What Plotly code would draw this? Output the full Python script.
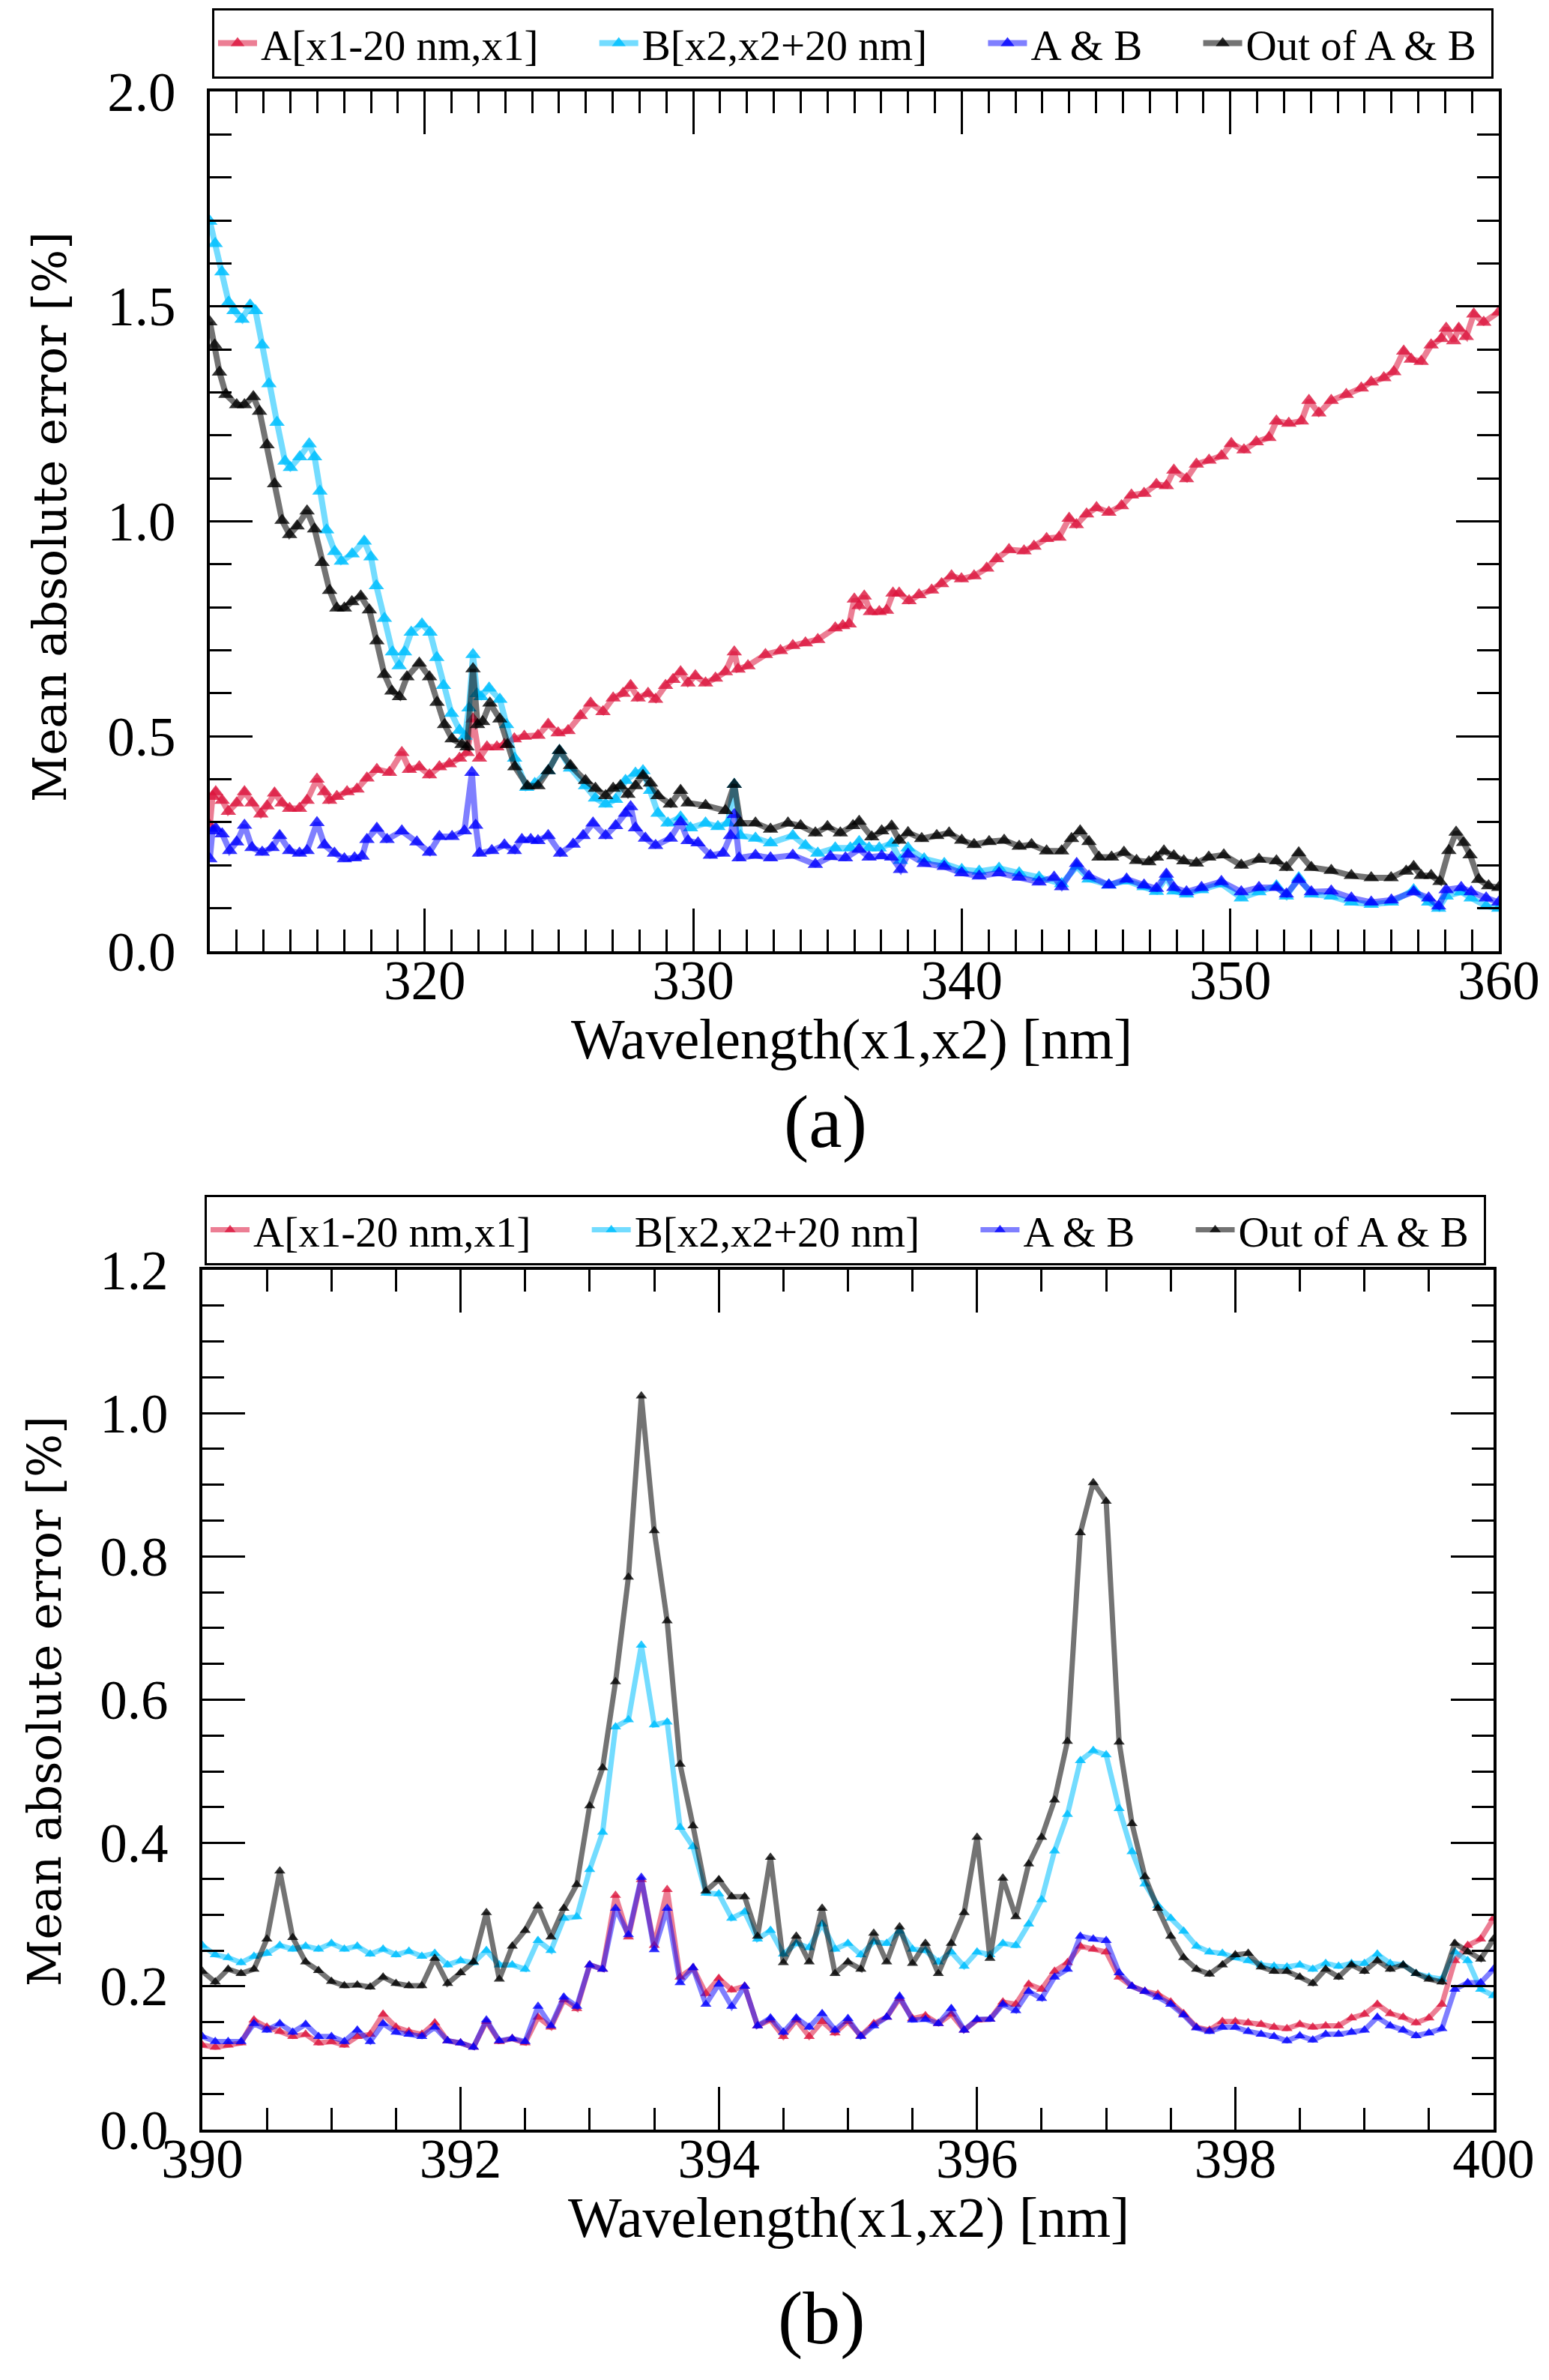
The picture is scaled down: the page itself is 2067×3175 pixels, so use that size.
import plotly.graph_objects as go

W, H = 2067, 3175

# ---------- panel (a): (wavelength, error) pairs ----------
a_red = [
    (312.0, 0.293), (312.1, 0.36), (312.22, 0.371), (312.46, 0.351), (312.69, 0.325), (313.0, 0.345),
    (313.29, 0.371), (313.57, 0.345), (313.9, 0.319), (314.13, 0.338), (314.41, 0.368), (314.69, 0.345),
    (314.97, 0.332), (315.34, 0.332), (315.62, 0.351), (315.99, 0.40), (316.27, 0.371), (316.46, 0.351),
    (316.73, 0.36), (317.11, 0.371), (317.48, 0.377), (317.85, 0.403), (318.22, 0.423), (318.69, 0.416),
    (319.15, 0.462), (319.43, 0.423), (319.8, 0.429), (320.18, 0.41), (320.55, 0.429), (320.92, 0.436),
    (321.3, 0.449), (321.58, 0.462), (321.8, 0.54), (322.04, 0.449), (322.32, 0.475), (322.69, 0.475),
    (322.97, 0.481), (323.34, 0.494), (323.71, 0.50), (324.22, 0.502), (324.6, 0.528), (324.97, 0.508),
    (325.34, 0.513), (325.8, 0.548), (326.18, 0.577), (326.64, 0.557), (327.02, 0.589), (327.39, 0.60),
    (327.67, 0.618), (327.95, 0.589), (328.32, 0.60), (328.6, 0.586), (328.97, 0.618), (329.25, 0.632),
    (329.53, 0.65), (329.81, 0.624), (330.08, 0.641), (330.46, 0.624), (330.83, 0.635), (331.2, 0.65),
    (331.53, 0.696), (331.67, 0.656), (332.04, 0.664), (332.69, 0.69), (333.25, 0.699), (333.71, 0.711),
    (334.18, 0.717), (334.64, 0.725), (335.29, 0.752), (335.57, 0.757), (335.81, 0.761), (336.0, 0.819),
    (336.18, 0.804), (336.37, 0.826), (336.6, 0.79), (336.93, 0.79), (337.2, 0.793), (337.44, 0.833),
    (337.67, 0.833), (338.04, 0.815), (338.41, 0.829), (338.88, 0.84), (339.25, 0.855), (339.62, 0.873),
    (339.99, 0.866), (340.46, 0.873), (340.93, 0.891), (341.3, 0.913), (341.76, 0.934), (342.32, 0.931),
    (342.69, 0.942), (343.16, 0.96), (343.62, 0.963), (344.0, 1.007), (344.27, 0.992), (344.65, 1.017),
    (345.02, 1.032), (345.48, 1.021), (345.95, 1.036), (346.32, 1.061), (346.79, 1.065), (347.25, 1.086),
    (347.62, 1.083), (347.9, 1.119), (348.37, 1.099), (348.74, 1.133), (349.21, 1.142), (349.67, 1.152),
    (350.04, 1.181), (350.51, 1.166), (350.97, 1.185), (351.44, 1.195), (351.72, 1.233), (352.18, 1.228),
    (352.65, 1.233), (352.93, 1.281), (353.3, 1.252), (353.76, 1.281), (354.32, 1.295), (354.88, 1.31),
    (355.25, 1.324), (355.72, 1.334), (356.09, 1.348), (356.46, 1.396), (356.74, 1.377), (357.11, 1.372),
    (357.48, 1.41), (357.86, 1.425), (358.04, 1.449), (358.32, 1.42), (358.51, 1.449), (358.79, 1.43),
    (359.07, 1.482), (359.44, 1.463), (360.0, 1.487),
]

a_cyan = [
    (312.0, 1.698), (312.2, 1.646), (312.45, 1.58), (312.7, 1.51), (312.9, 1.49), (313.2, 1.47),
    (313.5, 1.503), (313.7, 1.49), (313.95, 1.41), (314.2, 1.32), (314.5, 1.23), (314.8, 1.14),
    (315.0, 1.125), (315.35, 1.15), (315.7, 1.18), (315.9, 1.15), (316.1, 1.07), (316.35, 0.98),
    (316.65, 0.93), (316.9, 0.907), (317.3, 0.924), (317.75, 0.954), (318.0, 0.917), (318.2, 0.85),
    (318.5, 0.774), (318.8, 0.696), (319.05, 0.664), (319.25, 0.696), (319.5, 0.742), (319.9, 0.761),
    (320.2, 0.742), (320.45, 0.683), (320.7, 0.618), (321.0, 0.553), (321.3, 0.514), (321.5, 0.50),
    (321.65, 0.566), (321.8, 0.69), (321.95, 0.599), (322.1, 0.592), (322.4, 0.612), (322.8, 0.586),
    (323.05, 0.527), (323.35, 0.449), (323.8, 0.381), (324.1, 0.39), (324.6, 0.42), (325.02, 0.467),
    (325.43, 0.426), (325.99, 0.385), (326.36, 0.356), (326.74, 0.342), (327.11, 0.353), (327.48, 0.397),
    (327.85, 0.414), (328.13, 0.42), (328.41, 0.374), (328.69, 0.321), (329.06, 0.298), (329.53, 0.312),
    (329.9, 0.287), (330.46, 0.298), (330.92, 0.29), (331.29, 0.298), (331.53, 0.388), (331.76, 0.269),
    (332.32, 0.263), (332.88, 0.252), (333.71, 0.269), (334.18, 0.246), (334.64, 0.228), (335.29, 0.24),
    (335.85, 0.24), (336.18, 0.255), (336.55, 0.24), (336.93, 0.24), (337.39, 0.251), (337.72, 0.211),
    (338.0, 0.24), (338.6, 0.215), (339.35, 0.204), (340.0, 0.19), (340.65, 0.186), (341.39, 0.193),
    (342.14, 0.182), (342.88, 0.172), (343.72, 0.157), (344.28, 0.197), (344.74, 0.168), (345.48, 0.154),
    (346.14, 0.164), (346.79, 0.15), (347.25, 0.139), (347.62, 0.172), (347.9, 0.14), (348.37, 0.133),
    (348.93, 0.143), (349.67, 0.157), (350.41, 0.124), (351.07, 0.138), (351.72, 0.152), (352.09, 0.128),
    (352.55, 0.171), (353.02, 0.133), (353.76, 0.128), (354.51, 0.114), (355.25, 0.109), (356.0, 0.114),
    (356.83, 0.143), (357.39, 0.114), (357.76, 0.10), (358.04, 0.128), (358.6, 0.138), (358.97, 0.124),
    (359.53, 0.105), (360.0, 0.10),
]

a_blue = [
    (312.0, 0.215), (312.1, 0.28), (312.22, 0.286), (312.46, 0.273), (312.74, 0.234), (313.0, 0.254),
    (313.29, 0.293), (313.57, 0.241), (313.95, 0.23), (314.32, 0.241), (314.6, 0.269), (314.97, 0.234),
    (315.34, 0.228), (315.62, 0.234), (315.99, 0.299), (316.27, 0.247), (316.64, 0.228), (317.01, 0.215),
    (317.39, 0.217), (317.67, 0.221), (317.85, 0.26), (318.22, 0.286), (318.6, 0.26), (319.15, 0.28),
    (319.71, 0.254), (320.18, 0.23), (320.55, 0.267), (321.02, 0.267), (321.48, 0.28), (321.76, 0.416),
    (321.9, 0.293), (322.04, 0.228), (322.5, 0.234), (322.97, 0.247), (323.34, 0.234), (323.62, 0.26),
    (323.95, 0.26), (324.22, 0.257), (324.6, 0.269), (325.06, 0.228), (325.53, 0.249), (325.9, 0.269),
    (326.27, 0.298), (326.74, 0.269), (327.11, 0.292), (327.48, 0.321), (327.67, 0.336), (327.85, 0.287),
    (328.22, 0.263), (328.6, 0.246), (329.15, 0.263), (329.53, 0.301), (329.81, 0.257), (330.18, 0.252),
    (330.64, 0.223), (331.11, 0.228), (331.39, 0.269), (331.53, 0.318), (331.71, 0.217), (332.32, 0.223),
    (332.88, 0.217), (333.71, 0.223), (334.55, 0.202), (335.11, 0.22), (335.67, 0.217), (336.18, 0.237),
    (336.55, 0.219), (337.02, 0.222), (337.39, 0.219), (337.72, 0.19), (338.0, 0.226), (338.6, 0.204),
    (339.35, 0.197), (340.0, 0.182), (340.65, 0.175), (341.39, 0.182), (342.14, 0.172), (342.88, 0.161),
    (343.44, 0.172), (343.72, 0.15), (344.28, 0.204), (344.74, 0.175), (345.48, 0.154), (346.14, 0.168),
    (346.79, 0.154), (347.25, 0.146), (347.62, 0.179), (347.9, 0.148), (348.37, 0.138), (348.93, 0.148),
    (349.67, 0.162), (350.41, 0.138), (351.07, 0.148), (351.72, 0.148), (352.09, 0.133), (352.55, 0.167),
    (353.02, 0.138), (353.76, 0.14), (354.51, 0.124), (355.25, 0.114), (356.0, 0.119), (356.83, 0.138),
    (357.39, 0.124), (357.76, 0.105), (358.04, 0.143), (358.6, 0.148), (358.97, 0.138), (359.53, 0.124),
    (360.0, 0.114),
]

a_black = [
    (312.0, 1.464), (312.18, 1.41), (312.36, 1.347), (312.6, 1.295), (313.0, 1.271), (313.29, 1.271),
    (313.62, 1.29), (313.85, 1.256), (314.13, 1.178), (314.41, 1.087), (314.69, 1.002), (314.97, 0.969),
    (315.25, 0.989), (315.62, 1.024), (315.9, 0.982), (316.18, 0.904), (316.46, 0.839), (316.73, 0.798),
    (317.01, 0.798), (317.29, 0.813), (317.62, 0.826), (317.94, 0.794), (318.22, 0.722), (318.5, 0.644),
    (318.78, 0.605), (319.06, 0.592), (319.34, 0.638), (319.8, 0.670), (320.18, 0.638), (320.46, 0.579),
    (320.74, 0.527), (321.02, 0.494), (321.39, 0.481), (321.58, 0.475), (321.8, 0.657), (321.97, 0.527),
    (322.16, 0.534), (322.43, 0.577), (322.8, 0.540), (323.08, 0.481), (323.36, 0.429), (323.83, 0.384),
    (324.22, 0.385), (324.6, 0.42), (325.02, 0.467), (325.43, 0.432), (325.99, 0.397), (326.36, 0.379),
    (326.74, 0.362), (327.02, 0.379), (327.29, 0.385), (327.57, 0.365), (327.85, 0.385), (328.13, 0.409),
    (328.41, 0.391), (328.69, 0.362), (329.15, 0.342), (329.53, 0.374), (329.81, 0.345), (330.46, 0.339),
    (331.2, 0.327), (331.53, 0.388), (331.76, 0.298), (332.32, 0.298), (332.88, 0.284), (333.53, 0.298),
    (334.0, 0.292), (334.55, 0.275), (335.0, 0.29), (335.48, 0.275), (335.95, 0.292), (336.18, 0.302),
    (336.65, 0.266), (337.02, 0.28), (337.39, 0.291), (337.67, 0.258), (338.0, 0.276), (338.51, 0.262),
    (339.07, 0.269), (339.53, 0.275), (340.0, 0.258), (340.46, 0.248), (341.02, 0.255), (341.58, 0.258),
    (342.14, 0.244), (342.6, 0.248), (343.16, 0.233), (343.72, 0.233), (344.09, 0.262), (344.41, 0.28),
    (344.74, 0.255), (345.11, 0.219), (345.58, 0.219), (346.04, 0.23), (346.51, 0.211), (346.97, 0.208),
    (347.25, 0.219), (347.53, 0.233), (347.9, 0.222), (348.27, 0.21), (348.74, 0.205), (349.2, 0.219),
    (349.76, 0.224), (350.41, 0.2), (351.07, 0.214), (351.72, 0.21), (352.09, 0.195), (352.55, 0.229),
    (353.02, 0.195), (353.76, 0.188), (354.51, 0.176), (355.25, 0.171), (355.99, 0.171), (356.55, 0.186),
    (356.83, 0.197), (357.11, 0.176), (357.48, 0.176), (357.81, 0.162), (358.14, 0.234), (358.41, 0.277),
    (358.69, 0.253), (358.93, 0.224), (359.25, 0.167), (359.62, 0.152), (360.0, 0.148),
]

# ---------- panel (b): 390.0 ... 400.0 nm in 0.1 nm steps ----------
b_wl = [round(390 + 0.1 * i, 1) for i in range(101)]

b_red = [
    0.118, 0.115, 0.118, 0.121, 0.153, 0.143, 0.137, 0.13, 0.133, 0.121, 0.123, 0.118, 0.13, 0.133, 0.161,
    0.143, 0.137, 0.133, 0.149, 0.124, 0.121, 0.115, 0.151, 0.123, 0.127, 0.121, 0.157, 0.143, 0.181, 0.169,
    0.23, 0.224, 0.327, 0.269, 0.349, 0.257, 0.335, 0.213, 0.226, 0.19, 0.211, 0.195, 0.2, 0.145, 0.153,
    0.13, 0.153, 0.13, 0.151, 0.135, 0.151,
    0.131, 0.148, 0.157, 0.183, 0.155, 0.159, 0.148, 0.161, 0.139, 0.153, 0.154, 0.178, 0.175, 0.203, 0.196,
    0.221, 0.233, 0.256, 0.252, 0.248, 0.213, 0.2, 0.193, 0.189, 0.178, 0.162, 0.143, 0.139, 0.151, 0.151,
    0.149, 0.147, 0.143, 0.141, 0.147, 0.143, 0.145, 0.145, 0.156, 0.161, 0.175, 0.162, 0.157, 0.149, 0.156,
    0.175, 0.236, 0.257, 0.266, 0.295,
]

b_cyan = [
    0.257, 0.244, 0.24, 0.233, 0.242, 0.246, 0.257, 0.252, 0.256, 0.252, 0.26, 0.252, 0.256, 0.245, 0.252,
    0.244, 0.249, 0.242, 0.246, 0.23, 0.236, 0.233, 0.25, 0.23, 0.23, 0.224, 0.264, 0.25, 0.295, 0.297,
    0.363, 0.415, 0.562, 0.572, 0.676, 0.565, 0.569, 0.422, 0.395, 0.33, 0.329, 0.295, 0.304, 0.266, 0.278,
    0.245, 0.26, 0.254, 0.287, 0.252, 0.26,
    0.244, 0.262, 0.26, 0.277, 0.252, 0.25, 0.234, 0.248, 0.228, 0.248, 0.244, 0.26, 0.257, 0.287, 0.321,
    0.389, 0.44, 0.515, 0.529, 0.523, 0.448, 0.388, 0.343, 0.313, 0.295, 0.277, 0.256, 0.248, 0.246, 0.24,
    0.236, 0.23, 0.228, 0.227, 0.23, 0.224, 0.232, 0.228, 0.232, 0.232, 0.245, 0.232, 0.23, 0.218, 0.213,
    0.21, 0.248, 0.236, 0.196, 0.187,
]

b_blue = [
    0.13, 0.123, 0.123, 0.123, 0.148, 0.139, 0.148, 0.136, 0.147, 0.13, 0.13, 0.123, 0.139, 0.123, 0.148,
    0.136, 0.133, 0.13, 0.143, 0.124, 0.121, 0.115, 0.153, 0.124, 0.127, 0.123, 0.172, 0.145, 0.185, 0.172,
    0.23, 0.224, 0.309, 0.272, 0.352, 0.251, 0.309, 0.205, 0.226, 0.175, 0.203, 0.172, 0.2, 0.145, 0.156,
    0.136, 0.156, 0.143, 0.162, 0.139, 0.155,
    0.13, 0.145, 0.157, 0.186, 0.153, 0.154, 0.148, 0.169, 0.139, 0.154, 0.154, 0.175, 0.166, 0.193, 0.183,
    0.213, 0.224, 0.27, 0.266, 0.264, 0.219, 0.2, 0.193, 0.185, 0.175, 0.16, 0.142, 0.137, 0.143, 0.143,
    0.137, 0.133, 0.13, 0.124, 0.131, 0.125, 0.133, 0.133, 0.136, 0.139, 0.157, 0.145, 0.139, 0.131, 0.135,
    0.141, 0.196, 0.205, 0.205, 0.224,
]

b_black = [
    0.221, 0.206, 0.224, 0.218, 0.224, 0.266, 0.361, 0.268, 0.234, 0.222, 0.207, 0.201, 0.202, 0.199, 0.213,
    0.204, 0.201, 0.201, 0.239, 0.204, 0.219, 0.234, 0.303, 0.21, 0.256, 0.278, 0.312, 0.269, 0.309, 0.342,
    0.452, 0.505, 0.625, 0.771, 1.024, 0.836, 0.71, 0.51, 0.424, 0.333, 0.349, 0.325, 0.325, 0.27, 0.38,
    0.233, 0.27, 0.234, 0.309, 0.218, 0.234,
    0.224, 0.274, 0.234, 0.283, 0.232, 0.26, 0.218, 0.26, 0.303, 0.408, 0.239, 0.351, 0.297, 0.371, 0.408,
    0.46, 0.542, 0.833, 0.903, 0.877, 0.541, 0.427, 0.353, 0.309, 0.27, 0.24, 0.224, 0.217, 0.23, 0.244,
    0.246, 0.227, 0.221, 0.221, 0.213, 0.204, 0.224, 0.213, 0.23, 0.221, 0.236, 0.224, 0.23, 0.218, 0.21,
    0.206, 0.26, 0.248, 0.238, 0.266,
]

names = ['A[x1-20 nm,x1]', 'B[x2,x2+20 nm]', 'A & B', 'Out of A & B']
# (line colour, marker colour)
colors = [
    ('rgba(220,20,60,0.55)', 'rgba(220,20,60,0.8)'),
    ('rgba(0,191,255,0.55)', 'rgba(0,191,255,0.85)'),
    ('rgba(0,0,255,0.5)', 'rgba(0,0,255,0.8)'),
    ('rgba(0,0,0,0.55)', 'rgba(0,0,0,0.8)'),
]
# a little air after each legend entry (less after the last one)
pads = ['\u00a0' * 5, '\u00a0' * 5, '\u00a0' * 5, '\u00a0']

fig = go.Figure()

# panel (a)
for name, pad, (lc, mc), pts in zip(names, pads, colors, [a_red, a_cyan, a_blue, a_black]):
    fig.add_trace(go.Scatter(
        x=[p[0] for p in pts], y=[p[1] for p in pts],
        mode='lines+markers', name=name + pad,
        line=dict(color=lc, width=8),
        marker=dict(symbol='triangle-up', size=18, color=mc),
        xaxis='x', yaxis='y', legend='legend'))

# panel (b)
for name, pad, (lc, mc), vals in zip(names, pads, colors, [b_red, b_cyan, b_blue, b_black]):
    fig.add_trace(go.Scatter(
        x=b_wl, y=vals,
        mode='lines+markers', name=name + pad,
        line=dict(color=lc, width=7),
        marker=dict(symbol='triangle-up', size=13, color=mc),
        xaxis='x2', yaxis='y2', legend='legend2'))

tick_font = dict(family='Liberation Serif', size=73, color='black')
axis_common = dict(
    showline=True, linewidth=4, linecolor='black', mirror='ticks',
    ticks='inside', ticklen=57, tickwidth=3, tickcolor='black',
    showgrid=False, zeroline=False, tickfont=tick_font, automargin=False,
)
x_common = dict(ticklabelstandoff=-28, **axis_common)
y_common = dict(ticklabelstandoff=27, **axis_common)


def px_x(p):
    return p / W


def px_y(p):
    return 1 - p / H


legend_style = dict(xanchor='left', yanchor='top', orientation='h',
                    bordercolor='black', borderwidth=3, bgcolor='white', itemwidth=52,
                    font=dict(family='Liberation Serif', size=57, color='black'))

fig.update_layout(
    width=W, height=H,
    margin=dict(l=0, r=0, t=0, b=0, autoexpand=False),
    paper_bgcolor='white', plot_bgcolor='white',
    xaxis=dict(domain=[px_x(272), px_x(1992)], range=[312, 360], anchor='y',
               tick0=310, dtick=10,
               minor=dict(dtick=1, ticks='inside', ticklen=29, tickwidth=3, tickcolor='black'),
               **x_common),
    yaxis=dict(domain=[px_y(1261), px_y(114)], range=[0, 2], anchor='x',
               dtick=0.5, tickformat='.1f',
               minor=dict(dtick=0.1, ticks='inside', ticklen=29, tickwidth=3, tickcolor='black'),
               **y_common),
    xaxis2=dict(domain=[px_x(262), px_x(1985)], range=[390, 400], anchor='y2',
                dtick=2,
                minor=dict(dtick=0.5, ticks='inside', ticklen=29, tickwidth=3, tickcolor='black'),
                **x_common),
    yaxis2=dict(domain=[px_y(2833), px_y(1686)], range=[0, 1.2], anchor='x2',
                dtick=0.2, tickformat='.1f',
                minor=dict(dtick=0.05, ticks='inside', ticklen=29, tickwidth=3, tickcolor='black'),
                **y_common),
    legend=dict(x=px_x(275), y=px_y(3), **legend_style),
    legend2=dict(x=px_x(265), y=px_y(1586), **legend_style),
)

title_font = dict(family='Liberation Serif', size=76, color='black')
ytitle_font = dict(family='DejaVu Serif', size=61, color='black')
label_font = dict(family='Liberation Serif', size=100, color='black')

annotations = [
    dict(text='Mean absolute error [%]', x=px_x(58), y=px_y(682), textangle=-90, font=ytitle_font),
    dict(text='Wavelength(x1,x2) [nm]', x=px_x(1128), y=px_y(1378), font=title_font),
    dict(text='(a)', x=px_x(1093), y=px_y(1488), font=label_font),
    dict(text='Mean absolute error [%]', x=px_x(51), y=px_y(2262), textangle=-90, font=ytitle_font),
    dict(text='Wavelength(x1,x2) [nm]', x=px_x(1124), y=px_y(2950), font=title_font),
    dict(text='(b)', x=px_x(1088), y=px_y(3084), font=label_font),
]
for a in annotations:
    fig.add_annotation(xref='paper', yref='paper', xanchor='center', yanchor='middle',
                       showarrow=False, **a)

fig.write_html("out.html")
